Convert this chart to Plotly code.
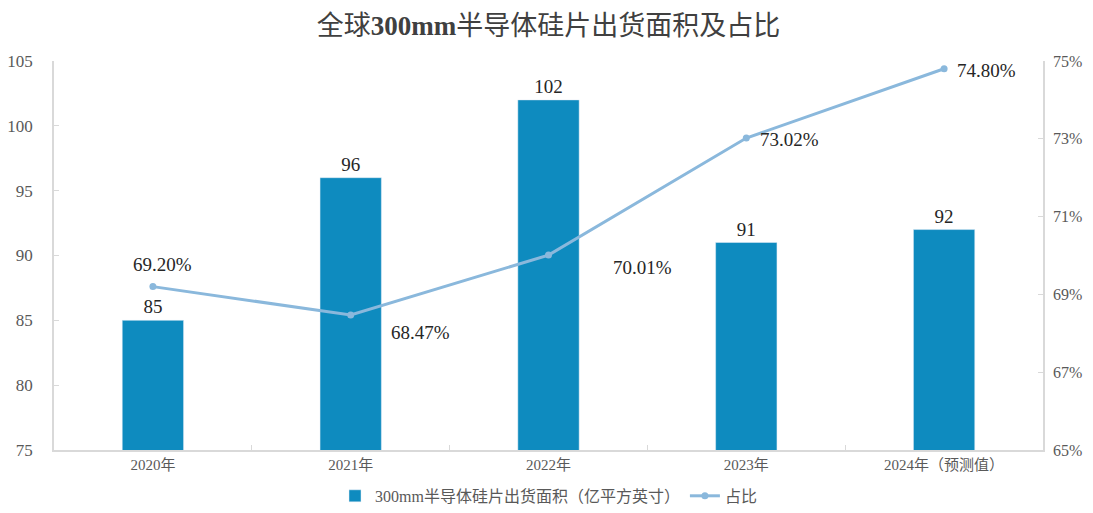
import plotly.graph_objects as go

categories = ["2020年", "2021年", "2022年", "2023年", "2024年（预测值）"]
area = [85, 96, 102, 91, 92]
share = [69.20, 68.47, 70.01, 73.02, 74.80]
share_labels = ["69.20%", "68.47%", "70.01%", "73.02%", "74.80%"]
# label offsets (xshift, yshift) in pixels
label_offsets = [(10, 22), (70, -17), (94, -12), (43, -1), (42, -2)]

FONT = "Liberation Serif, Times New Roman, Noto Sans CJK SC, serif"
AXIS_COLOR = "#D9D9D9"
TEXT_COLOR = "#595959"

fig = go.Figure()
fig.add_trace(go.Bar(
    x=categories, y=area, name="300mm半导体硅片出货面积（亿平方英寸）",
    marker=dict(color="#0E8BBF"), width=0.31,
    text=[str(v) for v in area], textposition="outside",
    textfont=dict(size=19, color="#262626", family=FONT),
    cliponaxis=False,
))
fig.add_trace(go.Scatter(
    x=categories, y=share, name="占比", yaxis="y2", mode="lines+markers",
    line=dict(color="#8AB8DC", width=3), marker=dict(size=7, color="#8AB8DC"),
))
for c, v, t, (dx, dy) in zip(categories, share, share_labels, label_offsets):
    fig.add_annotation(x=c, y=v, yref="y2", text=t, showarrow=False,
                       xshift=dx, yshift=dy,
                       font=dict(size=19, color="#262626", family=FONT))

# page has an 8px body margin, so the figure is sized to fit without scrollbars
fig.update_layout(
    width=1077, height=497,
    margin=dict(l=46, r=42, t=53, b=55, autoexpand=False),
    paper_bgcolor="white", plot_bgcolor="white",
    title=dict(text="全球<b>300mm</b>半导体硅片出货面积及占比", x=0.5, xanchor="center",
               xref="paper", y=0.965, yanchor="middle",
               font=dict(size=27, color="#404040", family=FONT)),
    font=dict(family=FONT, color=TEXT_COLOR, size=15),
    xaxis=dict(showline=True, linecolor=AXIS_COLOR, linewidth=1.5, ticks="inside",
               tickson="boundaries", tickcolor=AXIS_COLOR, ticklen=5, automargin=False,
               tickfont=dict(size=15, color=TEXT_COLOR), showgrid=False),
    yaxis=dict(range=[75, 105], dtick=5, showline=True, linecolor=AXIS_COLOR, linewidth=1.5,
               ticks="inside", tickcolor=AXIS_COLOR, ticklen=5, showgrid=False,
               zeroline=False, automargin=False, ticklabelstandoff=16,
               tickfont=dict(size=17, color=TEXT_COLOR)),
    yaxis2=dict(range=[65, 75], dtick=2, tick0=65, overlaying="y", side="right",
                showline=True, linecolor=AXIS_COLOR, linewidth=1.5, ticks="inside",
                tickcolor=AXIS_COLOR, ticklen=5, ticksuffix="%", showgrid=False,
                zeroline=False, automargin=False, ticklabelstandoff=5,
                tickfont=dict(size=16, color=TEXT_COLOR)),
    legend=dict(orientation="h", x=0.5, xanchor="center", y=-0.118, yanchor="middle",
                font=dict(size=16, color=TEXT_COLOR), traceorder="normal"),
    showlegend=True,
)
fig.write_html("out.html")
